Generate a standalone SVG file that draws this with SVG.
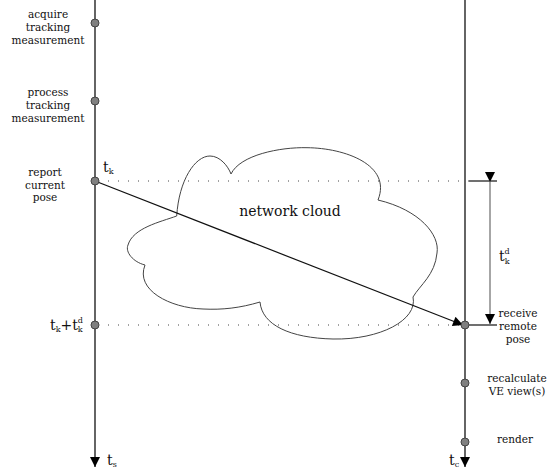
<svg xmlns="http://www.w3.org/2000/svg" width="551" height="470" viewBox="0 0 551 470">
<style>
text{font-family:"DejaVu Serif","Liberation Serif",serif;fill:#111}
.lbl{font-size:10.5px;text-anchor:middle}
.big{font-size:14px}
.sub{font-size:8px}
.tl{stroke:#111;stroke-width:1.3;fill:none}
.dot{fill:#808080;stroke:#444;stroke-width:1}
.dotted{stroke:#444;stroke-width:1;stroke-dasharray:1 9;fill:none}
</style>
<defs>
<marker id="ah" viewBox="0 0 10 10" refX="10" refY="5" markerWidth="10" markerHeight="10" markerUnits="userSpaceOnUse" orient="auto"><path d="M0,0 L10,5 L0,10 z" fill="#000"/></marker>
<marker id="ah2" viewBox="0 0 10 10" refX="10" refY="5" markerWidth="14" markerHeight="10" markerUnits="userSpaceOnUse" orient="auto"><path d="M0,0 L10,5 L0,10 z" fill="#000"/></marker>
</defs>
<g id="cloud">
<path d="M176.7,216 C179,180 195,156 210,156 C220,156 228,166 231,174 C240,155 280,147 307,147.7 C345,148 392,165 378,200 C420,210 440,235 437,253 C435,275 420,285 413,297 C418,320 380,340 333,339 C290,338 262,325 260,302 C240,308 222,310 203,309 C170,308 135,290 145,265 C133,262 125,252 128,245 C133,228 160,222 176.7,216 Z" fill="none" stroke="#444" stroke-width="1"/>
<text x="290" y="216" style="font-size:14px;text-anchor:middle">network cloud</text>
</g>
<g id="connectors">
<line class="tl" x1="95" y1="0" x2="95" y2="467" marker-end="url(#ah)"/>
<line class="tl" x1="465" y1="0" x2="465" y2="467" marker-end="url(#ah)"/>
<line class="dotted" x1="108" y1="181" x2="470" y2="181"/>
<line class="dotted" x1="108" y1="325" x2="460" y2="325"/>
<line x1="95" y1="181" x2="463" y2="325" stroke="#111" stroke-width="1.2" marker-end="url(#ah2)"/>
<line x1="469" y1="181" x2="497" y2="181" stroke="#111" stroke-width="1.2"/>
<line x1="465" y1="325" x2="497" y2="325" stroke="#111" stroke-width="1.2"/>
<line x1="490" y1="182" x2="490" y2="324" stroke="#888" stroke-width="1.5" marker-start="url(#ah)" marker-end="url(#ah)"/>
</g>
<g id="n1"><circle class="dot" cx="95" cy="23" r="4"/><text class="lbl" x="48" y="18">acquire</text><text class="lbl" x="48" y="31">tracking</text><text class="lbl" x="48" y="44">measurement</text></g>
<g id="n2"><circle class="dot" cx="95" cy="101" r="4"/><text class="lbl" x="48" y="96">process</text><text class="lbl" x="48" y="109">tracking</text><text class="lbl" x="48" y="122">measurement</text></g>
<g id="n3"><circle class="dot" cx="95" cy="181" r="4"/><text class="lbl" x="45" y="176">report</text><text class="lbl" x="45" y="189">current</text><text class="lbl" x="45" y="201">pose</text>
<text x="103" y="172" class="big">t<tspan class="sub" dy="2">k</tspan></text></g>
<g id="n4"><circle class="dot" cx="95" cy="325" r="4"/><text x="50" y="330" class="big">t<tspan class="sub" dy="2">k</tspan><tspan dy="-2">+t</tspan><tspan class="sub" dy="2">k</tspan><tspan class="sub" dx="-5" dy="-9">d</tspan></text></g>
<g id="n5"><circle class="dot" cx="465" cy="325" r="4"/><text class="lbl" x="518" y="317">receive</text><text class="lbl" x="518" y="330">remote</text><text class="lbl" x="518" y="343">pose</text></g>
<g id="n6"><circle class="dot" cx="465" cy="383" r="4"/><text class="lbl" x="517" y="382">recalculate</text><text class="lbl" x="517" y="395">VE view(s)</text></g>
<g id="n7"><circle class="dot" cx="465" cy="442" r="4"/><text class="lbl" x="515" y="443">render</text></g>
<text x="499" y="261" class="big">t<tspan class="sub" dy="3">k</tspan><tspan class="sub" dx="-5" dy="-10">d</tspan></text>
<text x="107" y="465" class="big">t<tspan class="sub" dy="1.5">s</tspan></text>
<text x="449" y="465" class="big">t<tspan class="sub" dy="1.5">c</tspan></text>
</svg>
